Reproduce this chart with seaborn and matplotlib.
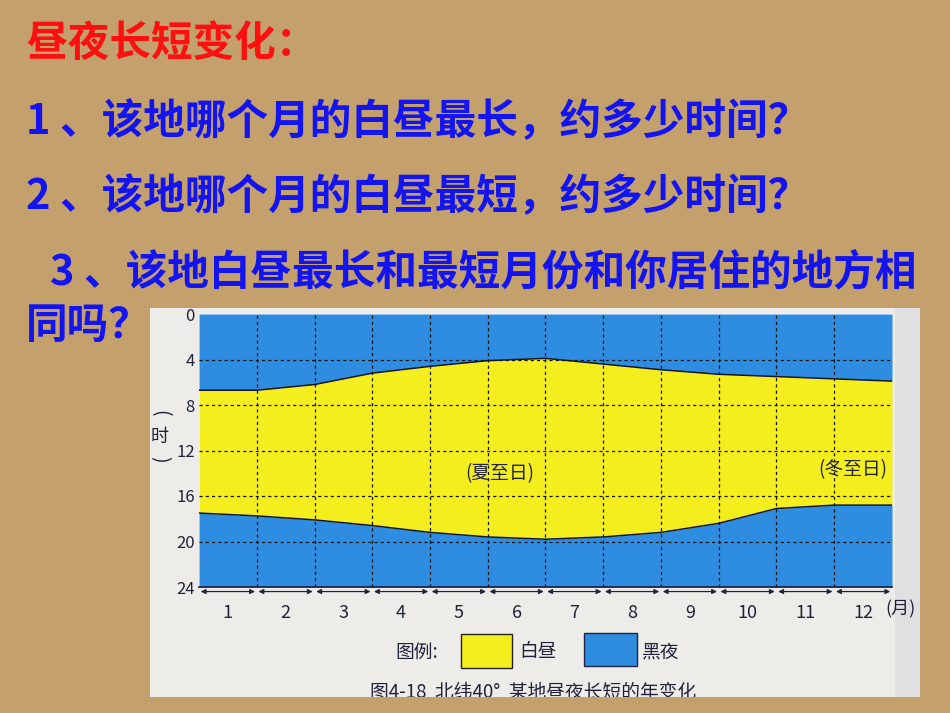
import numpy as np
import pandas as pd
import matplotlib
matplotlib.use('Agg')
import matplotlib.pyplot as plt
from matplotlib.patches import Rectangle
import seaborn as sns

sns.set_theme(style='white')
plt.rcParams['font.family'] = ['Noto Sans CJK SC', 'DejaVu Sans']

# 数据：月份边界 (0 = 1月初, 12 = 12月末) 上的日出 / 日落时刻
month_edges = list(range(13))
sunrise = [6.7, 6.7, 6.2, 5.2, 4.6, 4.1, 3.9, 4.4, 4.9, 5.3, 5.5, 5.7, 5.9]
sunset = [17.5, 17.75, 18.1, 18.6, 19.2, 19.6, 19.8, 19.6, 19.2, 18.4, 17.1, 16.8, 16.8]
month_labels = [str(m) for m in range(1, 13)]
hour_ticks = [0, 4, 8, 12, 16, 20, 24]

title = '昼夜长短变化：'
questions = ['1 、该地哪个月的白昼最长，约多少时间？',
             '2 、该地哪个月的白昼最短，约多少时间？',
             '3 、该地白昼最长和最短月份和你居住的地方相',
             '同吗？']

BG = '#C4A06C'
PAPER = '#EDECE8'
DAY = '#F4EE1E'
NIGHT = '#2E8DE0'
INK = '#22223A'
W, H = 950, 713


def fx(x):
    return x / W


def fy(y):
    return 1 - y / H


fig = plt.figure(figsize=(9.5, 7.13), dpi=100, facecolor=BG)

# 幻灯片文字
fig.text(fx(26), fy(44), title, color='#FF1010', fontsize=30,
         fontweight='bold', va='center', ha='left')
q_pos = [(26, 122), (26, 197), (50, 272), (26, 326)]
for (x, y), q in zip(q_pos, questions):
    fig.text(fx(x), fy(y), q, color='#1414EE', fontsize=30,
             fontweight='bold', va='center', ha='left')

# 扫描图纸底
pax = fig.add_axes([fx(150), fy(697), fx(920) - fx(150), fy(308) - fy(697)])
pax.set_facecolor(PAPER)
pax.set_xlim(0, 1)
pax.set_ylim(0, 1)
pax.set_xticks([])
pax.set_yticks([])
for s in pax.spines.values():
    s.set_visible(False)
pax.add_patch(Rectangle((0.968, 0), 0.032, 1, color='#E0E0E2', lw=0))

# 主图
ax = fig.add_axes([fx(199), fy(587), fx(892) - fx(199), fy(314) - fy(587)])
ax.fill_between(month_edges, 0, sunrise, color=NIGHT, lw=0)
ax.fill_between(month_edges, sunrise, sunset, color=DAY, lw=0)
ax.fill_between(month_edges, sunset, 24, color=NIGHT, lw=0)

df = pd.DataFrame({'month': month_edges * 2,
                   'hour': sunrise + sunset,
                   'edge': ['rise'] * 13 + ['set'] * 13})
sns.lineplot(data=df, x='month', y='hour', units='edge', estimator=None,
             color='#15152a', lw=1.1, ax=ax, legend=False)

for h in hour_ticks[1:-1]:
    ax.axhline(h, color='#111111', lw=0.9, ls=(0, (2.5, 2.5)))
for m in month_edges[1:-1]:
    ax.axvline(m, color='#111111', lw=0.9, ls=(0, (2.5, 2.5)))

ax.set_xlim(0, 12)
ax.set_ylim(24, 0)
ax.set_xlabel('')
ax.set_ylabel('')
ax.set_yticks(hour_ticks)
ax.set_yticklabels([str(h) for h in hour_ticks])
ax.set_xticks(np.arange(12) + 0.5)
ax.set_xticklabels(month_labels)
ax.tick_params(axis='y', length=0, pad=3, labelsize=12, labelcolor=INK)
ax.tick_params(axis='x', length=0, pad=12, labelsize=13, labelcolor=INK)
for s in ax.spines.values():
    s.set_visible(False)
ax.spines['bottom'].set_visible(True)
ax.spines['bottom'].set_color('#1a1a40')
ax.spines['bottom'].set_linewidth(1.2)

# 每月双向箭头
for k in range(12):
    ax.annotate('', xy=(k + 0.97, 24.4), xytext=(k + 0.03, 24.4),
                arrowprops=dict(arrowstyle='<|-|>', color=INK, lw=0.9,
                                mutation_scale=7, shrinkA=0, shrinkB=0),
                annotation_clip=False)

ax.text(11.88, 26.0, '(月)', fontsize=13, color=INK, ha='left', va='center')
# 纵轴单位 (时)，竖排
ax.text(-0.68, 8.7, '(', fontsize=14, color=INK, ha='center', va='center', rotation=-90)
ax.text(-0.68, 10.8, '时', fontsize=13, color=INK, ha='center', va='center')
ax.text(-0.68, 12.8, ')', fontsize=14, color=INK, ha='center', va='center', rotation=-90)
ax.text(5.21, 14.0, '(夏至日)', fontsize=13.5, color=INK, ha='center', va='center')
ax.text(11.32, 13.7, '(冬至日)', fontsize=13.5, color=INK, ha='center', va='center')

# 图例
fig.text(fx(395), fy(652), '图例:', fontsize=13.5, color=INK, va='center')
fig.add_artist(Rectangle((fx(461), fy(668)), fx(51), 34 / H, transform=fig.transFigure,
                         facecolor=DAY, edgecolor='#222222', lw=1))
fig.text(fx(519), fy(652), '白昼', fontsize=13.5, color=INK, va='center')
fig.add_artist(Rectangle((fx(584), fy(666)), fx(53), 33 / H, transform=fig.transFigure,
                         facecolor=NIGHT, edgecolor='#222244', lw=1))
fig.text(fx(642), fy(652), '黑夜', fontsize=13.5, color=INK, va='center')

# 图名（被图片下沿截断）
cap = pax.text((370 - 150) / 770, (697 - 692) / 389, '图4-18  北纬40°  某地昼夜长短的年变化',
               fontsize=13.5, color=INK, va='center', ha='left',
               transform=pax.transAxes, clip_on=True)

fig.savefig('out.png', dpi=100, facecolor=BG)
